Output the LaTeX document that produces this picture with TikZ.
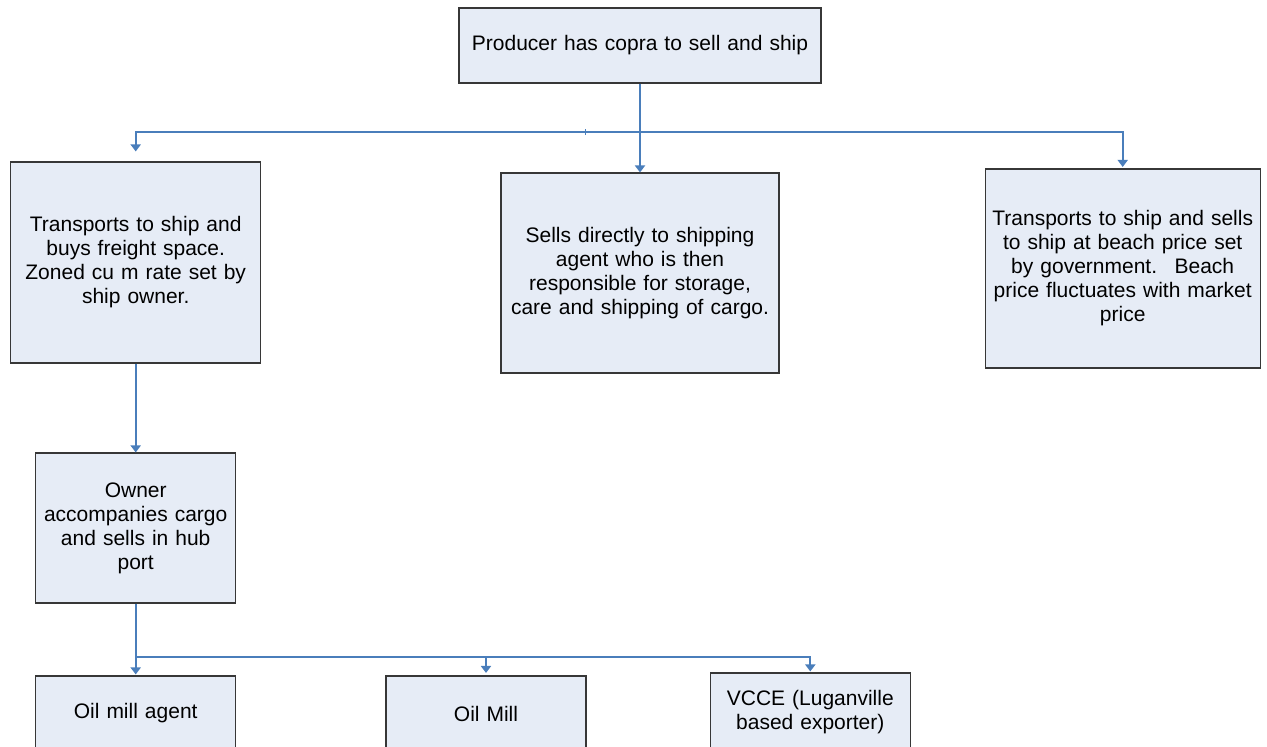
\documentclass[tikz,border=0pt]{standalone}
\usepackage{fontspec}
\setmainfont{Liberation Sans}
\usetikzlibrary{arrows.meta}
\definecolor{boxfill}{RGB}{230,236,246}
\definecolor{conncol}{RGB}{74,126,187}
\definecolor{boxline}{RGB}{55,55,55}
\begin{document}
\begin{tikzpicture}[x=1pt,y=-1pt,
  box/.style={draw=boxline, fill=boxfill, line width=1.1pt, rectangle, inner sep=0pt,
    align=center, font=\fontsize{21}{24}\selectfont},
  conn/.style={draw=conncol, line width=2.2pt},
  arr/.style={conn, -{Triangle[width=10pt,length=7pt]}}]
\useasboundingbox (0,0) rectangle (1267,747);
\clip (0,0) rectangle (1267,747);
\node[box, text width=362pt, minimum height=75pt] (top) at (640,45.5) {Producer has copra to sell and ship};
\node[box, text width=250pt, minimum height=201pt] (left) at (135.7,262.5)
  {Transports to ship and\\buys freight space.\\Zoned cu m rate set by\\ship owner.};
\node[box, text width=278pt, minimum height=200pt] (mid) at (640,273)
  {Sells directly to shipping\\agent who is then\\responsible for storage,\\care and shipping of cargo.};
\node[box, text width=275pt, minimum height=199pt] (right) at (1122.7,268.5)
  {Transports to ship and sells\\to ship at beach price set\\by government.~ Beach\\price fluctuates with market\\price};
\node[box, text width=200pt, minimum height=150pt] (owner) at (135.7,528)
  {Owner\\accompanies cargo\\and sells in hub\\port};
\node[box, text width=200pt, minimum height=75pt] (agent) at (135.7,713.5) {Oil mill agent};
\node[box, text width=200pt, minimum height=75pt] (mill) at (486,713.5) {Oil Mill};
\node[box, text width=200pt, minimum height=78pt] (vcce) at (810.3,712)
  {VCCE (Luganville\\based exporter)};
\coordinate (j1) at (640,132);
\coordinate (j2) at (135.7,657);
\draw[arr] (top.south) -- (mid.north);
\draw[arr, shorten >=10pt] (j1) -| (left.north);
\draw[arr, shorten >=1.5pt] (j1) -| (right.north);
\draw[conn, line width=0.8pt] (585,129) -- (585,135);
\draw[arr] (left.south) -- (owner.north);
\draw[arr, shorten >=1pt] (owner.south) -- (agent.north);
\draw[arr, shorten >=2.5pt] (j2) -| (mill.north);
\draw[arr, shorten >=1pt] (j2) -| (vcce.north);
\end{tikzpicture}
\end{document}
